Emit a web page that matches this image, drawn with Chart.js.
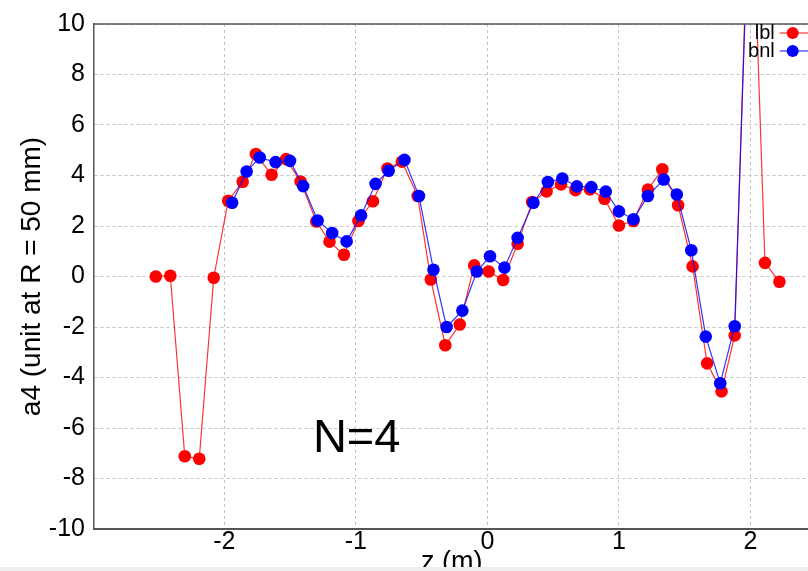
<!DOCTYPE html>
<html>
<head>
<meta charset="utf-8">
<script src="https://cdn.jsdelivr.net/npm/chart.js@4.4.1/dist/chart.umd.min.js"></script>
<style>
    html, body { margin: 0; padding: 0; overflow: hidden; background: #eeeeee; }
    #hoja { position: absolute; left: 0; top: 0; width: 808px; height: 567px; overflow: hidden; background: #ffffff; }
    #caja { position: absolute; left: 0; top: 0; width: 816px; height: 590px; }
</style>
</head>
<body>
<div id="hoja"><div id="caja"><canvas id="graficoA4"></canvas></div></div>
<script>
// Serie lbl (rojo)
const zLbl = [-2.52, -2.41, -2.30, -2.19, -2.08, -1.97, -1.86, -1.76, -1.64, -1.53, -1.42, -1.30, -1.20, -1.09,
    -0.98, -0.87, -0.76, -0.65, -0.53, -0.43, -0.32, -0.21, -0.10, 0.01, 0.12, 0.23, 0.34, 0.45, 0.56, 0.67,
    0.78, 0.89, 1.00, 1.11, 1.22, 1.33, 1.45, 1.56, 1.67, 1.78, 1.88, 2.00, 2.11, 2.22];
const a4Lbl = [0.0, 0.03, -7.12, -7.22, -0.05, 3.0, 3.75, 4.85, 4.03, 4.65, 3.76, 2.18, 1.38, 0.86,
    2.2, 2.98, 4.28, 4.55, 3.19, -0.12, -2.72, -1.9, 0.44, 0.2, -0.14, 1.3, 2.95, 3.37, 3.65, 3.42,
    3.45, 3.08, 2.02, 2.2, 3.44, 4.25, 2.82, 0.4, -3.44, -4.55, -2.33, 17.6, 0.54, -0.21];

// Serie bnl (azul)
const zBnl = [-1.94, -1.83, -1.73, -1.61, -1.50, -1.40, -1.29, -1.18, -1.07, -0.96, -0.85, -0.75, -0.63,
    -0.52, -0.41, -0.31, -0.19, -0.08, 0.02, 0.13, 0.23, 0.35, 0.46, 0.57, 0.68, 0.79, 0.90, 1.00, 1.11,
    1.22, 1.34, 1.44, 1.55, 1.66, 1.77, 1.88, 1.99];
const a4Bnl = [2.92, 4.16, 4.71, 4.53, 4.58, 3.58, 2.22, 1.72, 1.39, 2.42, 3.67, 4.19, 4.62,
    3.19, 0.27, -2.0, -1.35, 0.2, 0.8, 0.35, 1.53, 2.92, 3.74, 3.88, 3.57, 3.54, 3.36, 2.58, 2.27,
    3.19, 3.84, 3.25, 1.04, -2.38, -4.23, -1.97, 15.2];

// Ejes
const zTicks = [-2, -1, 0, 1, 2];
const a4Ticks = [-10, -8, -6, -4, -2, 0, 2, 4, 6, 8, 10];
const etiquetaN = "N=4";

const fuente = '"Liberation Sans", Arial, sans-serif';

const puntos = (xs, ys) => xs.map((x, i) => ({ x: x, y: ys[i] }));

// Borde superior, texto N=4 y leyenda dentro del grafico
const extras = {
    id: 'extras',
    afterDraw(chart) {
        const { ctx, chartArea, scales } = chart;
        ctx.save();
        ctx.strokeStyle = '#555555';
        ctx.lineWidth = 1.5;
        ctx.beginPath();
        ctx.moveTo(chartArea.left, chartArea.top);
        ctx.lineTo(chartArea.right, chartArea.top);
        ctx.stroke();

        ctx.fillStyle = '#000000';
        ctx.font = '47px ' + fuente;
        ctx.textAlign = 'left';
        ctx.textBaseline = 'alphabetic';
        ctx.fillText(etiquetaN, scales.x.getPixelForValue(-1.326), scales.y.getPixelForValue(-6.96));

        ctx.font = '20px ' + fuente;
        chart.data.datasets.forEach((ds, i) => {
            const y = chartArea.top + 9 + i * 18;
            const r = chartArea.right;
            ctx.fillStyle = '#000000';
            ctx.textAlign = 'right';
            ctx.textBaseline = 'middle';
            ctx.fillText(ds.label, r - 35, y);
            ctx.strokeStyle = ds.borderColor;
            ctx.lineWidth = 1.2;
            ctx.beginPath();
            ctx.moveTo(r - 30, y);
            ctx.lineTo(r, y);
            ctx.stroke();
            ctx.fillStyle = ds.pointBackgroundColor;
            ctx.beginPath();
            ctx.arc(r - 17, y, 6, 0, Math.PI * 2);
            ctx.fill();
        });
        ctx.restore();
    }
};

new Chart(document.getElementById('graficoA4'), {
    type: 'line',
    data: {
        datasets: [
            {
                label: 'lbl',
                data: puntos(zLbl, a4Lbl),
                borderColor: 'rgba(255, 0, 0, 0.8)',
                borderWidth: 1.2,
                pointBackgroundColor: '#ff0000',
                pointBorderWidth: 0,
                pointRadius: 6.3,
                tension: 0,
                order: 2
            },
            {
                label: 'bnl',
                data: puntos(zBnl, a4Bnl),
                borderColor: 'rgba(0, 0, 255, 0.8)',
                borderWidth: 1.2,
                pointBackgroundColor: '#0000ff',
                pointBorderWidth: 0,
                pointRadius: 6.3,
                tension: 0,
                order: 1
            }
        ]
    },
    options: {
        responsive: true,
        maintainAspectRatio: false,
        animation: false,
        layout: { padding: { top: 16, left: 0, right: 0, bottom: 0 } },
        plugins: {
            legend: { display: false },
            tooltip: { enabled: false }
        },
        scales: {
            x: {
                type: 'linear',
                min: -2.99,
                max: 2.45,
                afterBuildTicks: s => { s.ticks = zTicks.map(v => ({ value: v })); },
                afterFit: s => { s.height = 61; },
                grid: { color: '#c4c4c4', lineWidth: 1, drawTicks: false },
                border: { display: true, color: '#555555', width: 2, dash: [3, 3] },
                ticks: {
                    color: '#000000',
                    font: { size: 25, family: fuente, lineHeight: 1 },
                    padding: 1,
                    maxRotation: 0,
                    autoSkip: false
                },
                title: {
                    display: true,
                    text: 'z (m)',
                    color: '#000000',
                    font: { size: 27, family: fuente },
                    padding: { top: 0, bottom: 11 }
                }
            },
            y: {
                min: -10,
                max: 10,
                afterBuildTicks: s => { s.ticks = a4Ticks.map(v => ({ value: v })); },
                afterFit: s => { s.width = 94; },
                grid: { color: '#c4c4c4', lineWidth: 1, drawTicks: false },
                border: { display: true, color: '#555555', width: 1.5, dash: [3, 3] },
                ticks: {
                    color: '#000000',
                    font: { size: 25, family: fuente },
                    padding: 9
                },
                title: {
                    display: true,
                    text: 'a4 (unit at R = 50 mm)',
                    color: '#000000',
                    font: { size: 28, family: fuente },
                    padding: { top: 15, bottom: 0 }
                }
            }
        }
    },
    plugins: [extras]
});
</script>
</body>
</html>
